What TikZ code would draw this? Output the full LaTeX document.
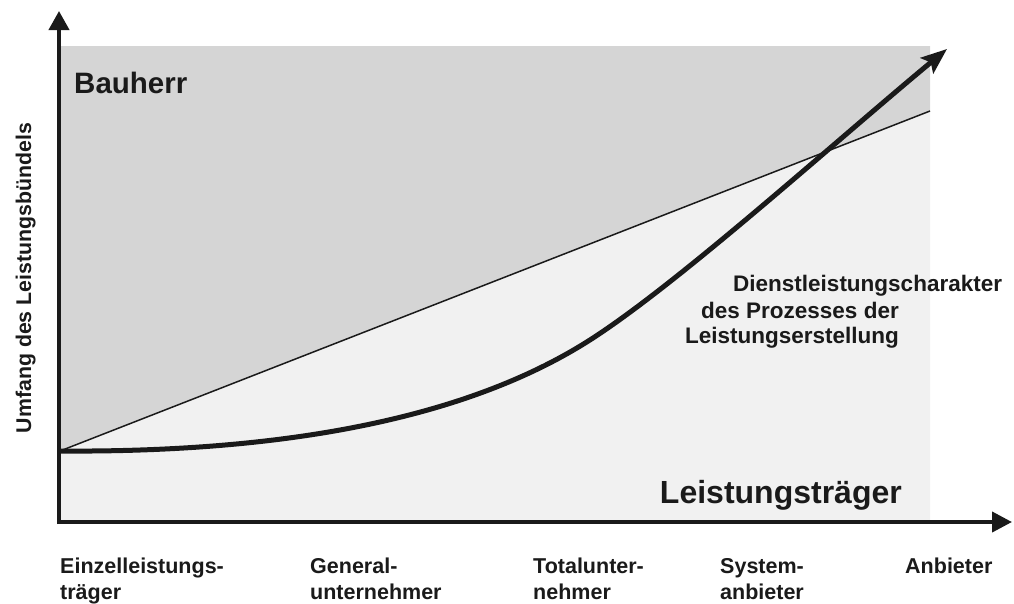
\documentclass[tikz,border=0pt]{standalone}
\usepackage{fontspec}
\setmainfont{Liberation Sans}
\usetikzlibrary{arrows.meta}
\definecolor{darkfill}{HTML}{D5D5D5}
\definecolor{lightfill}{HTML}{F1F1F1}
\definecolor{ink}{HTML}{1A1A1A}
\tikzset{
  axis/.style={line width=4pt, draw=ink},
  lbl/.style={inner sep=0pt, font=\bfseries\fontsize{21.5}{26}\selectfont, text=ink},
  big/.style={inner sep=0pt, text=ink},
}
\begin{document}
\begin{tikzpicture}[x=1pt,y=-1pt]
\useasboundingbox (0,0) rectangle (1014,603);
% key points
\coordinate (O) at (59,522);
\coordinate (S) at (60,451);
\coordinate (E) at (930,111);
\coordinate (M) at (593,338);
\coordinate (Ytip) at (59,11);
\coordinate (Xtip) at (1012,522);
\coordinate (Ctip) at (947,49);
% regions
\fill[darkfill] (S) -- (E) -- (930,46) -- (60,46) -- cycle;
\fill[lightfill] (S) -- (E) -- (930,522) -- (60,522) -- cycle;
% straight line
\draw[line width=1.5pt, ink] (S) -- (E);
% curve
\draw[line width=5pt, ink, -{Stealth[length=26pt,width=20pt,inset=5pt]}]
  (S) .. controls (330,453) and (493,403) .. (M)
      .. controls (683,279.5) and (837,140) .. (Ctip);
% axes
\draw[axis, -{Triangle[length=19pt,width=20pt]}] (59,524) -- (Ytip);
\draw[axis, -{Triangle[length=20pt,width=20pt]}] (57,522) -- (Xtip);
% texts
\node[big, anchor=base west, font=\bfseries\fontsize{29.5}{34}\selectfont] (bauherr) at (74,93) {Bauherr};
\node[big, anchor=base east, font=\bfseries\fontsize{32}{38}\selectfont] (leist) at (902,503) {Leistungsträger};
\node[big, anchor=base west, font=\bfseries\fontsize{22.5}{26}\selectfont] (d1) at (733,291) {Dienstleistungscharakter};
\node[big, anchor=base east, font=\bfseries\fontsize{22.5}{26}\selectfont] (d2) at (899,318) {des Prozesses der};
\node[big, anchor=base east, font=\bfseries\fontsize{22.5}{26}\selectfont] (d3) at (899,343) {Leistungserstellung};
\node[big, rotate=90, anchor=base, font=\bfseries\fontsize{21.3}{26}\selectfont] (yl) at (31,278) {Umfang des Leistungsbündels};
\node[lbl, anchor=north west, align=left] (x1) at (60,558) {Einzelleistungs-\\träger};
\node[lbl, anchor=north west, align=left] (x2) at (310,558) {General-\\unternehmer};
\node[lbl, anchor=north west, align=left] (x3) at (533,558) {Totalunter-\\nehmer};
\node[lbl, anchor=north west, align=left] (x4) at (720,558) {System-\\anbieter};
\node[lbl, anchor=north west, align=left] (x5) at (905,558) {Anbieter};
\end{tikzpicture}
\end{document}
